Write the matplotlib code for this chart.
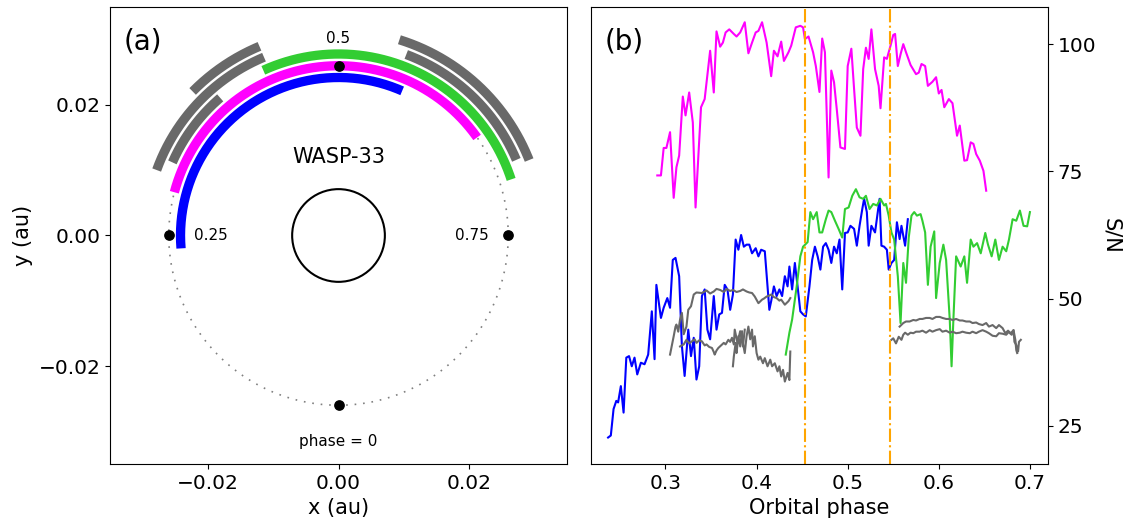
# -*- coding: utf-8 -*-
"""
WASP-33 orbit coverage (a) and S/N per exposure vs orbital phase (b)
"""
import matplotlib
matplotlib.use('Agg')
import matplotlib.pyplot as plt
import numpy as np
from matplotlib import rcParams

rcParams['font.size'] = 14.5
rcParams['axes.labelsize'] = 15

## data
# blue night
blue_phase = [0.237, 0.240, 0.243, 0.246, 0.248, 0.251, 0.254, 0.257, 0.260, 0.263, 0.266, 0.269, 0.273, 0.277,
              0.281, 0.285, 0.288, 0.290, 0.295, 0.298, 0.302, 0.305, 0.308, 0.311, 0.315, 0.318, 0.321, 0.325,
              0.328, 0.331, 0.334, 0.337, 0.340, 0.343, 0.346, 0.349, 0.353, 0.356, 0.359, 0.362, 0.365, 0.368,
              0.371, 0.374, 0.377, 0.380, 0.383, 0.386, 0.389, 0.392, 0.395, 0.399, 0.402, 0.405, 0.409, 0.412,
              0.414, 0.416, 0.419, 0.422, 0.425, 0.428, 0.431, 0.434, 0.436, 0.439, 0.442, 0.445, 0.448, 0.451,
              0.454, 0.458, 0.461, 0.464, 0.467, 0.470, 0.473, 0.476, 0.479, 0.482, 0.485, 0.488, 0.491, 0.494,
              0.497, 0.500, 0.503, 0.507, 0.510, 0.513, 0.516, 0.518, 0.521, 0.523, 0.526, 0.530, 0.533, 0.535,
              0.537, 0.540, 0.543, 0.545, 0.548, 0.551, 0.554, 0.557, 0.559, 0.563, 0.566]
blue_sn = [22.7, 23.1, 28.3, 29.9, 29.6, 32.8, 27.6, 38.4, 38.7, 36.7, 38.4, 35.1, 37.4, 37.1,
           39.0, 47.5, 38.1, 52.7, 46.2, 48.2, 50.1, 48.2, 57.6, 58.0, 54.4, 40.7, 34.8, 43.9,
           38.7, 42.3, 34.1, 36.7, 50.5, 51.8, 43.9, 42.0, 50.5, 43.9, 46.9, 47.2, 52.7, 51.8,
           47.8, 50.8, 61.6, 59.6, 62.5, 60.2, 60.6, 60.6, 58.9, 59.9, 58.3, 59.6, 59.3, 52.4,
           47.8, 49.5, 52.4, 50.5, 51.8, 50.5, 54.4, 52.4, 56.3, 51.8, 57.0, 52.4, 47.5, 46.9,
           46.5, 52.4, 57.6, 60.2, 58.3, 55.7, 60.2, 60.9, 59.6, 57.0, 60.2, 58.9, 61.6, 51.8,
           62.9, 63.0, 64.3, 63.7, 60.4, 64.3, 67.6, 69.6, 67.0, 60.4, 64.3, 63.0, 67.0, 69.6,
           60.4, 60.2, 59.6, 55.7, 57.0, 57.6, 65.0, 61.7, 64.3, 60.4, 65.6]

# magenta night
magenta_phase = [0.291, 0.295, 0.298, 0.301, 0.305, 0.309, 0.312, 0.315, 0.319, 0.322, 0.326, 0.330, 0.333,
                 0.339, 0.343, 0.349, 0.353, 0.356, 0.360, 0.363, 0.366, 0.370, 0.375, 0.378, 0.382, 0.387,
                 0.391, 0.395, 0.399, 0.402, 0.406, 0.411, 0.416, 0.419, 0.423, 0.427, 0.430, 0.435, 0.438,
                 0.443, 0.448, 0.451, 0.453, 0.457, 0.462, 0.465, 0.469, 0.472, 0.475, 0.479, 0.482, 0.485,
                 0.488, 0.492, 0.497, 0.500, 0.504, 0.507, 0.510, 0.514, 0.517, 0.520, 0.523, 0.526, 0.530,
                 0.534, 0.536, 0.540, 0.543, 0.547, 0.550, 0.552, 0.555, 0.558, 0.561, 0.564, 0.569, 0.575,
                 0.578, 0.581, 0.585, 0.588, 0.593, 0.597, 0.600, 0.603, 0.606, 0.611, 0.615, 0.620, 0.623,
                 0.628, 0.631, 0.635, 0.638, 0.641, 0.645, 0.649, 0.652]
magenta_sn = [74.2, 74.2, 79.6, 79.6, 82.7, 69.8, 75.8, 78.1, 89.7, 86.0, 90.5, 84.6, 67.9,
              87.6, 89.2, 98.7, 90.5, 102.5, 99.5, 100.3, 102.3, 102.9, 102.0, 101.5, 102.3, 104.3,
              98.2, 100.3, 102.3, 102.6, 104.3, 100.3, 93.7, 98.7, 97.6, 100.5, 96.7, 98.4, 99.7,
              103.3, 103.6, 103.3, 101.0, 101.5, 98.4, 95.7, 90.6, 101.1, 98.4, 73.8, 94.8, 92.5,
              87.2, 79.7, 79.4, 95.7, 99.1, 91.2, 83.6, 82.0, 95.1, 99.3, 97.1, 102.9, 95.1,
              91.8, 87.4, 97.4, 97.1, 99.7, 101.8, 102.0, 95.7, 98.0, 100.0, 98.4, 95.9, 94.1,
              94.4, 96.1, 95.7, 91.8, 92.6, 93.5, 90.3, 91.0, 87.6, 89.2, 88.4, 82.0, 84.0,
              77.1, 77.2, 80.7, 80.4, 78.4, 77.1, 75.1, 71.2]

# green night
green_phase = [0.432, 0.436, 0.439, 0.444, 0.448, 0.451, 0.456, 0.459, 0.462, 0.466, 0.469, 0.472, 0.476,
               0.479, 0.482, 0.486, 0.490, 0.494, 0.497, 0.501, 0.505, 0.509, 0.513, 0.517, 0.520, 0.524,
               0.528, 0.532, 0.536, 0.540, 0.542, 0.545, 0.548, 0.551, 0.555, 0.558, 0.561, 0.564, 0.567,
               0.570, 0.573, 0.576, 0.580, 0.582, 0.585, 0.588, 0.591, 0.595, 0.597, 0.601, 0.605, 0.608,
               0.612, 0.614, 0.616, 0.619, 0.624, 0.628, 0.631, 0.635, 0.638, 0.642, 0.646, 0.651, 0.654,
               0.658, 0.662, 0.666, 0.670, 0.674, 0.677, 0.681, 0.685, 0.689, 0.693, 0.697, 0.700]
green_sn = [39.0, 43.3, 45.9, 52.4, 58.3, 60.2, 61.1, 67.0, 65.6, 67.0, 63.0, 63.0, 65.6,
            67.3, 67.0, 65.3, 63.7, 62.0, 67.6, 67.9, 70.2, 71.5, 69.9, 69.6, 70.2, 67.6,
            68.6, 68.3, 69.6, 68.3, 68.6, 66.3, 63.0, 61.6, 54.4, 45.2, 57.0, 53.1, 62.0,
            66.3, 67.0, 66.3, 66.6, 65.3, 63.0, 52.7, 60.2, 63.2, 50.1, 57.0, 60.6, 57.6,
            45.9, 36.7, 45.9, 58.3, 56.3, 58.3, 53.1, 61.6, 60.2, 60.9, 58.9, 62.9, 60.6,
            58.3, 61.6, 57.6, 60.2, 59.3, 61.6, 65.6, 65.3, 67.3, 64.3, 64.2, 67.0]

# grey nights (five segments)
grey1_phase = [0.316, 0.320, 0.323, 0.326, 0.329, 0.332, 0.334, 0.337, 0.340, 0.343, 0.345, 0.348, 0.351,
               0.353, 0.354, 0.356, 0.358, 0.361, 0.364, 0.366, 0.369, 0.371, 0.373, 0.375, 0.376, 0.379,
               0.382, 0.385, 0.387]
grey1_sn = [40.6, 41.0, 41.9, 41.2, 41.6, 42.0, 41.3, 41.8, 41.6, 40.8, 41.0, 40.5, 40.3,
            39.5, 39.0, 39.8, 40.3, 40.8, 41.3, 41.0, 41.9, 41.5, 42.3, 41.0, 43.9, 41.3,
            43.6, 40.6, 43.9]

grey2_phase = [0.305, 0.309, 0.311, 0.312, 0.314, 0.316, 0.318, 0.320, 0.323, 0.325, 0.328, 0.331, 0.334,
               0.340, 0.345, 0.349, 0.353, 0.356, 0.360, 0.364, 0.367, 0.371, 0.374, 0.378, 0.382, 0.385,
               0.389, 0.392, 0.395, 0.398, 0.402, 0.406, 0.408, 0.411, 0.414, 0.416, 0.419, 0.422, 0.425,
               0.427, 0.431, 0.435, 0.437]
grey2_sn = [39.0, 42.6, 44.5, 44.9, 43.5, 45.9, 47.2, 43.0, 44.5, 47.8, 48.5, 50.8, 51.2,
            51.1, 51.6, 51.0, 51.4, 51.9, 51.7, 51.3, 51.9, 51.5, 51.7, 51.3, 51.5, 51.8,
            51.4, 51.2, 51.1, 50.4, 49.1, 49.8, 50.0, 50.4, 50.6, 50.8, 50.3, 50.1, 49.6,
            49.8, 48.8, 49.5, 50.1]

grey3_phase = [0.374, 0.375, 0.377, 0.378, 0.380, 0.382, 0.384, 0.385, 0.387, 0.389, 0.391, 0.393, 0.395,
               0.396, 0.398, 0.400, 0.402, 0.404, 0.407, 0.409, 0.412, 0.415, 0.417, 0.420, 0.423, 0.425,
               0.427, 0.429, 0.431, 0.434, 0.436, 0.437]
grey3_sn = [36.7, 38.6, 41.3, 39.3, 42.6, 40.6, 43.6, 41.3, 39.3, 42.6, 44.5, 42.0, 43.9,
            40.6, 42.6, 39.3, 38.0, 38.6, 37.3, 38.3, 36.7, 38.0, 36.7, 37.3, 35.7, 36.7,
            34.7, 36.0, 33.7, 35.4, 34.0, 39.6]

grey4_phase = [0.557, 0.561, 0.564, 0.568, 0.572, 0.575, 0.579, 0.582, 0.586, 0.590, 0.593, 0.597, 0.601,
               0.604, 0.608, 0.612, 0.615, 0.619, 0.623, 0.626, 0.630, 0.634, 0.637, 0.641, 0.644, 0.648,
               0.652, 0.655, 0.659, 0.663, 0.666, 0.670, 0.673, 0.676, 0.678, 0.680, 0.682, 0.684, 0.685,
               0.686]
grey4_sn = [44.5, 45.2, 45.5, 45.5, 45.8, 45.7, 46.0, 46.0, 46.2, 46.2, 46.0, 46.4, 46.4,
            46.2, 46.0, 46.0, 45.8, 46.0, 45.7, 45.7, 45.5, 45.5, 45.2, 45.3, 45.0, 44.8,
            45.2, 44.5, 44.8, 44.2, 44.8, 44.2, 43.2, 43.7, 43.2, 42.9, 43.8, 41.9, 39.9,
            39.3]

grey5_phase = [0.548, 0.550, 0.553, 0.556, 0.559, 0.561, 0.563, 0.566, 0.569, 0.572, 0.575, 0.579, 0.582,
               0.586, 0.590, 0.593, 0.597, 0.601, 0.604, 0.608, 0.612, 0.615, 0.619, 0.623, 0.626, 0.630,
               0.634, 0.637, 0.641, 0.644, 0.648, 0.652, 0.655, 0.659, 0.663, 0.666, 0.670, 0.674, 0.677,
               0.679, 0.682, 0.683, 0.685, 0.687, 0.688, 0.690]
grey5_sn = [41.9, 42.2, 41.2, 42.5, 41.9, 42.9, 43.3, 42.9, 43.3, 43.2, 43.5, 43.5, 43.7,
            43.3, 43.8, 43.5, 43.8, 44.0, 43.5, 43.7, 43.3, 43.5, 43.2, 43.3, 43.5, 43.3,
            43.2, 43.5, 43.2, 43.5, 43.8, 43.5, 43.2, 42.7, 42.6, 43.2, 43.1, 42.9, 43.5,
            43.2, 43.8, 41.5, 40.9, 39.6, 41.5, 41.9]

# secondary eclipse contacts
eclipse_phases = [0.4533, 0.5467]

## geometry of panel (a) (au)
a_orb = 0.026    # orbit radius
r_star = 0.0071  # stellar radius
dr = 0.0018      # radial offset between the arcs

# (phase, S/N, colour, arc radius)
nights = [(blue_phase, blue_sn, 'blue', a_orb - dr),
          (magenta_phase, magenta_sn, 'magenta', a_orb),
          (green_phase, green_sn, 'limegreen', a_orb + dr),
          (grey1_phase, grey1_sn, 'dimgray', a_orb + dr),
          (grey2_phase, grey2_sn, 'dimgray', a_orb + 2*dr),
          (grey3_phase, grey3_sn, 'dimgray', a_orb + 3*dr),
          (grey4_phase, grey4_sn, 'dimgray', a_orb + 2*dr),
          (grey5_phase, grey5_sn, 'dimgray', a_orb + 3*dr)]

fig = plt.figure(figsize=(11.28, 5.21), dpi=100)
ax1 = fig.add_axes([0.0969, 0.1094, 0.4064, 0.8772])
ax2 = fig.add_axes([0.5235, 0.1094, 0.4053, 0.8772])

### panel (a): orbit
th = np.linspace(0, 2*np.pi, 500)
ax1.plot(a_orb*np.cos(th), a_orb*np.sin(th), color='gray', lw=1.2, dashes=(1, 4.1), zorder=1)
ax1.add_patch(plt.Circle((0, 0), r_star, fill=False, color='k', lw=1.5))

for ph, sn, col, r in nights:
    t = 2*np.pi*np.linspace(min(ph), max(ph), 200)
    ax1.plot(-r*np.sin(t), -r*np.cos(t), color=col, lw=6.7, solid_capstyle='butt', zorder=2)

# planet at quadratures / conjunctions
marks = np.array([0, 0.25, 0.5, 0.75])
ax1.plot(-a_orb*np.sin(2*np.pi*marks), -a_orb*np.cos(2*np.pi*marks), 'o', color='k', ms=6.7, zorder=5)

ax1.text(0, 0.0301, '0.5', ha='center', va='center', fontsize=11)
ax1.text(-0.0222, 0, '0.25', ha='left', va='center', fontsize=11)
ax1.text(0.0230, 0, '0.75', ha='right', va='center', fontsize=11)
ax1.text(0, -0.0316, 'phase = 0', ha='center', va='center', fontsize=11)
ax1.text(0, 0.0120, 'WASP-33', ha='center', va='center', fontsize=15)
ax1.text(0.03, 0.955, '(a)', transform=ax1.transAxes, ha='left', va='top', fontsize=20)

ax1.set_xlim(-0.035, 0.035)
ax1.set_ylim(-0.035, 0.035)
ax1.set_aspect('equal')
ax1.set_xticks([-0.02, 0, 0.02])
ax1.set_yticks([-0.02, 0, 0.02])
ax1.set_xlabel('x (au)')
ax1.set_ylabel('y (au)')

### panel (b): S/N
for ph, sn, col, r in nights:
    ax2.plot(ph, sn, color=col, lw=1.5)
for e in eclipse_phases:
    ax2.axvline(e, color='orange', ls='-.', lw=1.5)

ax2.text(0.03, 0.955, '(b)', transform=ax2.transAxes, ha='left', va='top', fontsize=20)
ax2.set_xlim(0.2177, 0.7195)
ax2.set_ylim(17.5, 107.3)
ax2.set_xticks([0.3, 0.4, 0.5, 0.6, 0.7])
ax2.set_yticks([25, 50, 75, 100])
ax2.yaxis.tick_right()
ax2.yaxis.set_label_position('right')
ax2.set_xlabel('Orbital phase')
ax2.set_ylabel('S/N', rotation=270, labelpad=18)

plt.savefig('out.png', dpi=100)
